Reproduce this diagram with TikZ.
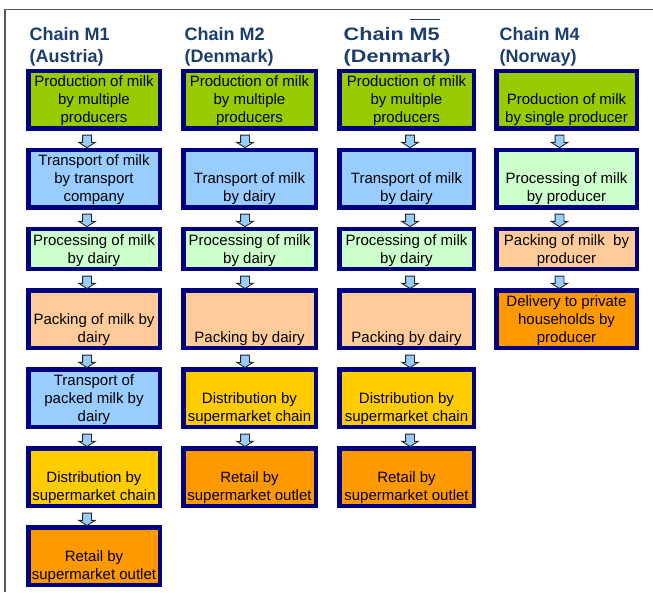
\documentclass[tikz,border=0pt]{standalone}
\usepackage{fontspec}
\setmainfont{Liberation Sans}
\usepackage{xcolor}
\definecolor{chainnavy}{HTML}{000080}
\definecolor{headblue}{HTML}{1B3E6E}
\definecolor{prodgreen}{HTML}{99CC00}
\definecolor{transblue}{HTML}{99CCFF}
\definecolor{procmint}{HTML}{CCFFCC}
\definecolor{packpeach}{HTML}{FFCC99}
\definecolor{distgold}{HTML}{FFCC00}
\definecolor{retailorange}{HTML}{FF9900}
\usepackage{tikz}
\usetikzlibrary{positioning, calc, shapes.arrows}
% text of a stage box, set to the bottom of the box
\newcommand\stg[2][52pt]{\parbox[c][#1][b]{128pt}{\centering #2\strut}}
\newcommand\mfive{\rlap{\smash{\rule[20pt]{25pt}{1.3pt}}}M5}

\begin{document}
\begin{tikzpicture}[x=1pt, y=-1pt, node distance=17pt,
  stage/.style={draw=chainnavy, line width=4.5pt, inner sep=0pt, minimum height=57.5pt,
    font=\fontsize{15}{18}\selectfont},
  short/.style={minimum height=39.5pt},
  chainhead/.style={anchor=north west, inner sep=0pt, align=left, text=headblue,
    font=\fontsize{18}{22.7}\selectfont\bfseries},
  flowarrow/.style={single arrow, draw=black!85, fill=transblue, line width=0.9pt,
    inner xsep=4pt, inner ysep=0pt, minimum width=0pt, minimum height=12.5pt,
    single arrow head extend=3.8pt, single arrow tip angle=115,
    shape border rotate=270, yshift=-1pt}]
  \useasboundingbox (0,0) rectangle (653,592);
  \draw[line width=1.5pt, color=black!65] (5,592) -- (5,9.5) -- (653,9.5);

  % headings
  \node[chainhead] (hm1) at (29.5,27) {Chain M1\\(Austria)};
  \node[chainhead] (hm2) at (184.5,27) {Chain M2\\(Denmark)};
  \begin{scope}[shift={(343.5,27)}, xscale=1.2]
    \node[chainhead, transform shape] (hm5) at (0,0) {Chain \mfive\\(Denmark)};
  \end{scope}
  \node[chainhead] (hm4) at (499.5,27) {Chain M4\\(Norway)};

  % chain M1
  \begin{scope}[every node/.append style={minimum width=131.5pt}]
    \node[stage, fill=prodgreen] (m1prod) at (94,99.5) {\stg{Production of milk\\by multiple\\producers}};
    \node[stage, fill=transblue, below=of m1prod] (m1trans) {\stg{Transport of milk\\by transport\\company}};
    \node[stage, short, fill=procmint, below=of m1trans] (m1proc) {\stg[35pt]{Processing of milk\\by dairy}};
    \node[stage, fill=packpeach, below=of m1proc] (m1pack) {\stg{Packing of milk by\\dairy}};
    \node[stage, fill=transblue, below=of m1pack] (m1tpack) {\stg{Transport of\\packed milk by\\dairy}};
    \node[stage, fill=distgold, below=of m1tpack] (m1dist) {\stg{Distribution by\\supermarket chain}};
    \node[stage, fill=retailorange, below=of m1dist] (m1ret) {\stg{Retail by\\supermarket outlet}};
  \end{scope}

  % chain M2
  \begin{scope}[every node/.append style={minimum width=132.5pt}]
    \node[stage, fill=prodgreen] (m2prod) at (249.5,99.5) {\stg{Production of milk\\by multiple\\producers}};
    \node[stage, fill=transblue, below=of m2prod] (m2trans) {\stg{Transport of milk\\by dairy}};
    \node[stage, short, fill=procmint, below=of m2trans] (m2proc) {\stg[35pt]{Processing of milk\\by dairy}};
    \node[stage, fill=packpeach, below=of m2proc] (m2pack) {\stg{Packing by dairy}};
    \node[stage, fill=distgold, below=of m2pack] (m2dist) {\stg{Distribution by\\supermarket chain}};
    \node[stage, fill=retailorange, below=of m2dist] (m2ret) {\stg{Retail by\\supermarket outlet}};
  \end{scope}

  % chain M5
  \begin{scope}[every node/.append style={minimum width=134.5pt}]
    \node[stage, fill=prodgreen] (m5prod) at (406.5,99.5) {\stg{Production of milk\\by multiple\\producers}};
    \node[stage, fill=transblue, below=of m5prod] (m5trans) {\stg{Transport of milk\\by dairy}};
    \node[stage, short, fill=procmint, below=of m5trans] (m5proc) {\stg[35pt]{Processing of milk\\by dairy}};
    \node[stage, fill=packpeach, below=of m5proc] (m5pack) {\stg{Packing by dairy}};
    \node[stage, fill=distgold, below=of m5pack] (m5dist) {\stg{Distribution by\\supermarket chain}};
    \node[stage, fill=retailorange, below=of m5dist] (m5ret) {\stg{Retail by\\supermarket outlet}};
  \end{scope}

  % chain M4
  \begin{scope}[every node/.append style={minimum width=140.5pt}]
    \node[stage, fill=prodgreen] (m4prod) at (566.5,99.5) {\stg{Production of milk\\by single producer}};
    \node[stage, fill=procmint, below=of m4prod] (m4proc) {\stg{Processing of milk\\by producer}};
    \node[stage, short, fill=packpeach, below=of m4proc] (m4pack) {\stg[35pt]{Packing of milk~ by\\producer}};
    \node[stage, fill=retailorange, below=of m4pack] (m4deliv) {\stg{Delivery to private\\households by\\producer}};
  \end{scope}

  % block arrows between the stages
  \foreach \a/\b/\dx in {m1prod/m1trans/-7, m1trans/m1proc/-7, m1proc/m1pack/-7, m1pack/m1tpack/-7,
      m1tpack/m1dist/-7, m1dist/m1ret/-7,
      m2prod/m2trans/-4.5, m2trans/m2proc/-4.5, m2proc/m2pack/-4.5, m2pack/m2dist/-4.5, m2dist/m2ret/-4.5,
      m5prod/m5trans/3.5, m5trans/m5proc/3.5, m5proc/m5pack/3.5, m5pack/m5dist/3.5, m5dist/m5ret/3.5,
      m4prod/m4proc/-7, m4proc/m4pack/-7, m4pack/m4deliv/-7}
    \node[flowarrow, xshift=\dx pt] (arr-\a) at ($(\a.south)!0.5!(\b.north)$) {};
\end{tikzpicture}
\end{document}
